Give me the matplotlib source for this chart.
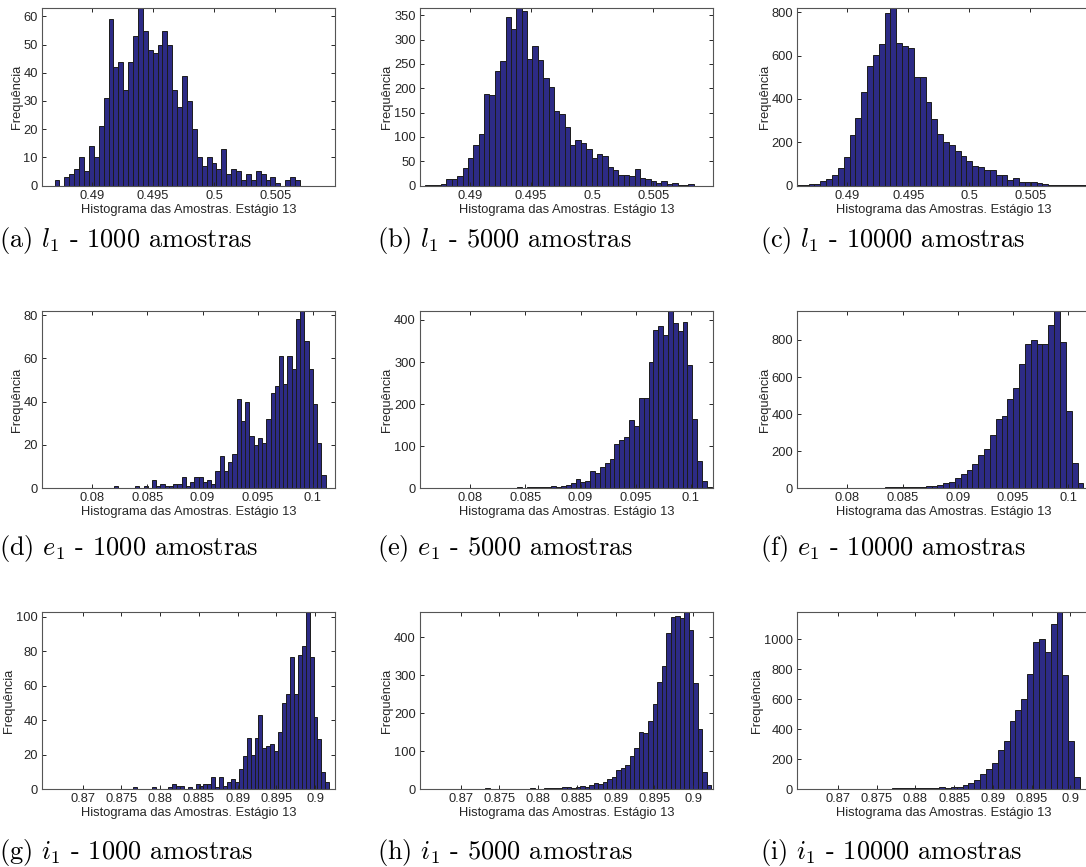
import numpy as np
import matplotlib
matplotlib.use("Agg")
import matplotlib.pyplot as plt

plt.rcParams['font.family'] = ['Liberation Sans', 'DejaVu Sans']
plt.rcParams['mathtext.fontset'] = 'cm'

# contagens por classe (50 classes)
l1_1000 = [2, 0, 3, 4, 6, 10, 5, 14, 10, 21, 31, 59, 42, 44, 34, 44, 53, 63, 55, 48,
           47, 50, 55, 50, 34, 28, 39, 30, 20, 10, 7, 10, 8, 6, 13, 4, 6, 5, 2, 4,
           2, 5, 4, 2, 3, 1, 0, 2, 3, 2]
l1_5000 = [1, 2, 2, 4, 13, 13, 19, 37, 57, 83, 106, 189, 186, 235, 255, 347, 321, 365, 358, 261,
           286, 259, 222, 203, 154, 147, 121, 84, 93, 87, 76, 57, 65, 60, 38, 32, 21, 21, 20, 33,
           15, 14, 10, 5, 10, 4, 6, 2, 2, 3]
l1_10000 = [2, 3, 5, 8, 20, 30, 50, 80, 130, 232, 310, 432, 553, 603, 652, 795, 820, 659, 645, 635,
            503, 503, 385, 305, 238, 200, 185, 160, 135, 112, 90, 85, 72, 70, 48, 47, 25, 33, 15, 15,
            15, 10, 5, 3, 3, 1, 2, 1, 1, 1]
e1_1000 = [1, 0, 0, 0, 0, 1, 0, 1, 0, 4, 1, 2, 1, 1, 2, 2, 5, 1, 3, 5,
           5, 3, 4, 2, 8, 15, 8, 12, 16, 41, 31, 40, 24, 20, 23, 21, 32, 44, 47, 61,
           48, 61, 55, 78, 82, 68, 55, 39, 21, 6]
e1_5000 = [1, 0, 0, 1, 1, 0, 0, 1, 1, 1, 2, 1, 4, 2, 3, 3, 2, 5, 4, 6,
           8, 12, 23, 14, 17, 41, 36, 50, 60, 70, 104, 115, 122, 163, 149, 214, 215, 301, 375, 385,
           364, 422, 392, 373, 394, 294, 164, 65, 17, 3]
e1_10000 = [1, 0, 1, 1, 1, 2, 1, 2, 2, 2, 2, 3, 3, 3, 3, 3, 4, 4, 4, 4,
            5, 7, 9, 11, 13, 18, 27, 33, 54, 76, 96, 130, 177, 213, 289, 371, 389, 479, 542, 669,
            778, 800, 778, 778, 880, 958, 787, 416, 135, 27]
i1_1000 = [1, 0, 0, 0, 0, 1, 0, 0, 0, 1, 3, 2, 2, 0, 1, 0, 3, 2, 3, 3,
           7, 1, 7, 2, 4, 6, 4, 12, 19, 30, 20, 30, 43, 24, 25, 26, 22, 33, 50, 55,
           77, 55, 78, 83, 103, 77, 42, 29, 10, 4]
i1_5000 = [2, 0, 1, 0, 0, 1, 1, 0, 1, 1, 2, 1, 1, 2, 2, 3, 3, 6, 6, 4,
           5, 8, 7, 10, 17, 15, 19, 28, 32, 51, 55, 65, 87, 108, 150, 147, 180, 225, 283, 326,
           413, 455, 457, 452, 468, 420, 280, 158, 45, 12]
i1_10000 = [1, 0, 1, 1, 1, 1, 2, 1, 2, 2, 3, 2, 3, 3, 4, 3, 4, 5, 5, 6,
            6, 7, 8, 9, 10, 12, 11, 15, 18, 25, 40, 63, 101, 136, 174, 264, 324, 454, 528, 600,
            767, 980, 1002, 917, 1103, 1185, 760, 320, 80, 0]

# min e max das amostras de cada histograma
l1_ranges = [(0.48693, 0.50702), (0.4863, 0.50832), (0.48587, 0.50981)]
e1_ranges = [(0.08197, 0.10115), (0.07984, 0.1019), (0.07491, 0.10138)]
i1_ranges = [(0.87645, 0.90182), (0.87314, 0.90235), (0.86412, 0.90199)]

l1_xticks = [0.49, 0.495, 0.5, 0.505]
e1_xticks = [0.08, 0.085, 0.09, 0.095, 0.1]
i1_xticks = [0.87, 0.875, 0.88, 0.885, 0.89, 0.895, 0.9]

l1_yticks = [[0, 10, 20, 30, 40, 50, 60], [0, 50, 100, 150, 200, 250, 300, 350], [0, 200, 400, 600, 800]]
e1_yticks = [[0, 20, 40, 60, 80], [0, 100, 200, 300, 400], [0, 200, 400, 600, 800]]
i1_yticks = [[0, 20, 40, 60, 80, 100], [0, 100, 200, 300, 400], [0, 200, 400, 600, 800, 1000]]

l1_xlim = (0.4859, 0.5099)
e1_xlim = (0.07545, 0.10201)
i1_xlim = (0.86475, 0.90256)

amostras = [1000, 5000, 10000]
letras = ['abc', 'def', 'ghi']
simbolos = ['l_1', 'e_1', 'i_1']

linhas = [
    ([l1_1000, l1_5000, l1_10000], l1_ranges, l1_xticks, l1_yticks, l1_xlim),
    ([e1_1000, e1_5000, e1_10000], e1_ranges, e1_xticks, e1_yticks, e1_xlim),
    ([i1_1000, i1_5000, i1_10000], i1_ranges, i1_xticks, i1_yticks, i1_xlim),
]

W, H = 1086, 867
fig = plt.figure(figsize=(W / 100, H / 100), dpi=100)

col_left = [42, 420, 797.3]
row_top = [8, 310.7, 611.7]
ax_w, ax_h = 293, 177.5
cap_y = [240, 548, 852]
cap_x = [-1, 377, 760]

cor_barra = '#2d2b86'
cor_texto = '#262626'

def fmt(v):
    s = ('%.3f' % v).rstrip('0').rstrip('.')
    return s

for r, (dados, ranges, xt, yts, xlim) in enumerate(linhas):
    for c in range(3):
        ax = fig.add_axes([col_left[c] / W, 1 - (row_top[r] + ax_h) / H, ax_w / W, ax_h / H])
        cont = np.array(dados[c])
        lo, hi = ranges[c]
        bordas = np.linspace(lo, hi, len(cont) + 1)
        ax.bar(bordas[:-1], cont, width=np.diff(bordas), align='edge',
               color=cor_barra, edgecolor='#1c1c1c', linewidth=0.7)
        ax.set_xlim(*xlim)
        ax.set_ylim(0, cont.max())
        ax.set_xticks(xt)
        ax.set_xticklabels([fmt(v) for v in xt])
        ax.set_yticks(yts[c])
        ax.tick_params(direction='in', length=3, width=0.7, top=True, right=True,
                       labelsize=9.3, colors=cor_texto, pad=3)
        for sp in ax.spines.values():
            sp.set_color('#555555')
            sp.set_linewidth(0.8)
        ax.set_xlabel('Histograma das Amostras. Estágio 13', fontsize=9.3,
                      color=cor_texto, labelpad=1.5)
        ax.set_ylabel('Frequência', fontsize=9.3, color=cor_texto, labelpad=0.5)

        fig.text(cap_x[c] / W, 1 - cap_y[r] / H,
                 r'(%s) $%s$ - %d amostras' % (letras[r][c], simbolos[r], amostras[c]),
                 fontfamily='cmr10', fontsize=19, ha='left', va='center')

fig.savefig('out.png', dpi=100, facecolor='white')
